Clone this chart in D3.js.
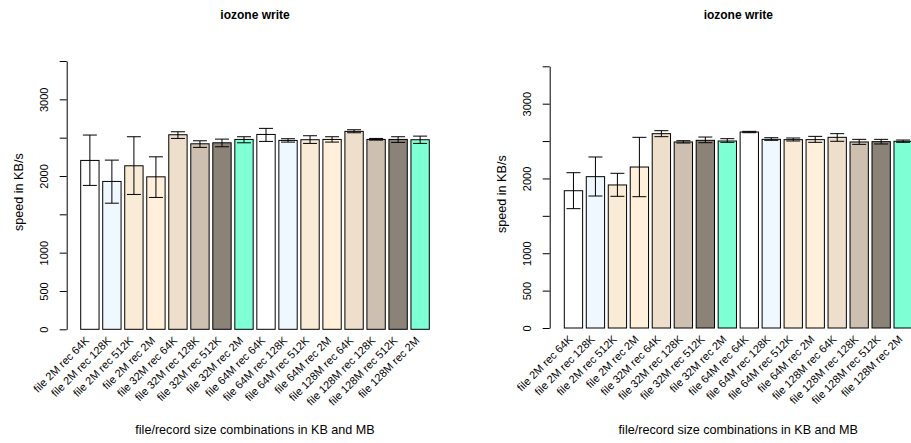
<!DOCTYPE html>
<html>
<head>
<meta charset="utf-8">
<script src="https://cdn.jsdelivr.net/npm/d3@7/dist/d3.min.js"></script>
<style>
  html, body { margin: 0; padding: 0; background: #fff; }
  svg { display: block; font-family: "Liberation Sans", Arial, Helvetica, sans-serif; }
</style>
</head>
<body>
<svg id="chart" width="911" height="443"></svg>
<script>
// ---------- data ----------
const categories = [
  "file 2M rec 64K", "file 2M rec 128K", "file 2M rec 512K", "file 2M rec 2M",
  "file 32M rec 64K", "file 32M rec 128K", "file 32M rec 512K", "file 32M rec 2M",
  "file 64M rec 64K", "file 64M rec 128K", "file 64M rec 512K", "file 64M rec 2M",
  "file 128M rec 64K", "file 128M rec 128K", "file 128M rec 512K", "file 128M rec 2M"
];
const barColors = ["#FFFFFF", "#F0F8FF", "#FAEBD7", "#FFEFDB", "#EEDFCC", "#CDC0B0", "#8B8378", "#7FFFD4"];

const leftMeans = [2203, 1929, 2133, 1989, 2538, 2420, 2433, 2477, 2542, 2464, 2473, 2477, 2582, 2477, 2477, 2473];
const leftLower = [1877, 1645, 1759, 1720, 2490, 2373, 2381, 2433, 2451, 2442, 2425, 2442, 2564, 2468, 2438, 2425];
const leftUpper = [2534, 2207, 2512, 2250, 2577, 2459, 2481, 2512, 2621, 2486, 2525, 2512, 2603, 2490, 2512, 2520];

const rightMeans = [1836, 2024, 1913, 2153, 2599, 2488, 2510, 2501, 2621, 2523, 2519, 2519, 2550, 2488, 2492, 2497];
const rightLower = [1596, 1765, 1761, 1756, 2559, 2474, 2478, 2483, 2612, 2510, 2501, 2483, 2497, 2456, 2461, 2483];
const rightUpper = [2077, 2287, 2069, 2550, 2639, 2505, 2554, 2532, 2630, 2545, 2541, 2563, 2599, 2523, 2523, 2514];

const yTicks = [0, 500, 1000, 1500, 2000, 2500, 3000, 3500];
const yTickLabels = ["0", "500", "1000", "2000", "3000"];
const yMax = 3500;

const titleText = "iozone write";
const xLabelText = "file/record size combinations in KB and MB";
const yLabelText = "speed in KB/s";

// ---------- layout ----------
const panels = [
  { means: leftMeans, lower: leftLower, upper: leftUpper,
    x0: 80.7, x1: 429.3, yBottom: 329.3, yTop: 61, axisX: 66.7 },
  { means: rightMeans, lower: rightLower, upper: rightUpper,
    x0: 564.3, x1: 912.3, yBottom: 328, yTop: 66.3, axisX: 549.7 }
];

const svg = d3.select("#chart");
const capHalf = 7;

panels.forEach(p => {
  const g = svg.append("g");
  const x = d3.scaleBand().domain(categories).range([p.x0, p.x1])
    .paddingInner(1 / 6).paddingOuter(0);
  const y = d3.scaleLinear().domain([0, yMax]).range([p.yBottom, p.yTop]);
  const data = categories.map((c, i) => ({
    c, m: p.means[i], lo: p.lower[i], hi: p.upper[i], col: barColors[i % barColors.length]
  }));

  // bars
  g.selectAll("rect.bar").data(data).join("rect")
    .attr("class", "bar")
    .attr("x", d => x(d.c))
    .attr("y", d => y(d.m))
    .attr("width", x.bandwidth())
    .attr("height", d => y(0) - y(d.m))
    .attr("fill", d => d.col)
    .attr("stroke", "#000")
    .attr("stroke-width", 1);

  // error bars
  const eb = g.selectAll("g.err").data(data).join("g").attr("class", "err")
    .attr("stroke", "#000").attr("stroke-width", 1);
  eb.append("line")
    .attr("x1", d => x(d.c) + x.bandwidth() / 2).attr("x2", d => x(d.c) + x.bandwidth() / 2)
    .attr("y1", d => y(d.lo)).attr("y2", d => y(d.hi));
  eb.append("line")
    .attr("x1", d => x(d.c) + x.bandwidth() / 2 - capHalf).attr("x2", d => x(d.c) + x.bandwidth() / 2 + capHalf)
    .attr("y1", d => y(d.hi)).attr("y2", d => y(d.hi));
  eb.append("line")
    .attr("x1", d => x(d.c) + x.bandwidth() / 2 - capHalf).attr("x2", d => x(d.c) + x.bandwidth() / 2 + capHalf)
    .attr("y1", d => y(d.lo)).attr("y2", d => y(d.lo));

  // y axis
  const ax = g.append("g").attr("transform", `translate(${p.axisX},0)`)
    .call(d3.axisLeft(y).tickValues(yTicks).tickSize(7).tickSizeOuter(0)
      .tickFormat(d => yTickLabels.includes(String(d)) ? String(d) : ""));
  ax.select(".domain").attr("stroke", "#000");
  ax.selectAll(".tick line").attr("stroke", "#000");
  ax.selectAll(".tick text")
    .attr("x", null).attr("dy", null)
    .attr("transform", "translate(-18.5,0) rotate(-90)")
    .attr("text-anchor", "middle")
    .attr("font-size", 11)
    .attr("font-family", "Liberation Sans, Arial, Helvetica, sans-serif")
    .attr("fill", "#000");

  // x category labels (rotated 45°)
  g.selectAll("text.cat").data(data).join("text")
    .attr("class", "cat")
    .attr("text-anchor", "end")
    .attr("font-size", 11)
    .attr("fill", "#000")
    .attr("transform", d => `translate(${x(d.c) + x.bandwidth() / 2},${p.yBottom + 12}) rotate(-45)`)
    .text(d => d.c);

  const cx = (p.x0 + p.x1) / 2;
  // title
  g.append("text").attr("x", cx).attr("y", 19)
    .attr("text-anchor", "middle").attr("font-weight", "bold").attr("font-size", 12)
    .text(titleText);
  // x label
  g.append("text").attr("x", cx).attr("y", 434)
    .attr("text-anchor", "middle").attr("font-size", 12.6)
    .text(xLabelText);
  // y label
  const cy = (p.yBottom + p.yTop) / 2 - 3;
  g.append("text")
    .attr("transform", `translate(${p.axisX - 44},${cy}) rotate(-90)`)
    .attr("text-anchor", "middle").attr("font-size", 12.6)
    .text(yLabelText);
});
</script>
</body>
</html>
